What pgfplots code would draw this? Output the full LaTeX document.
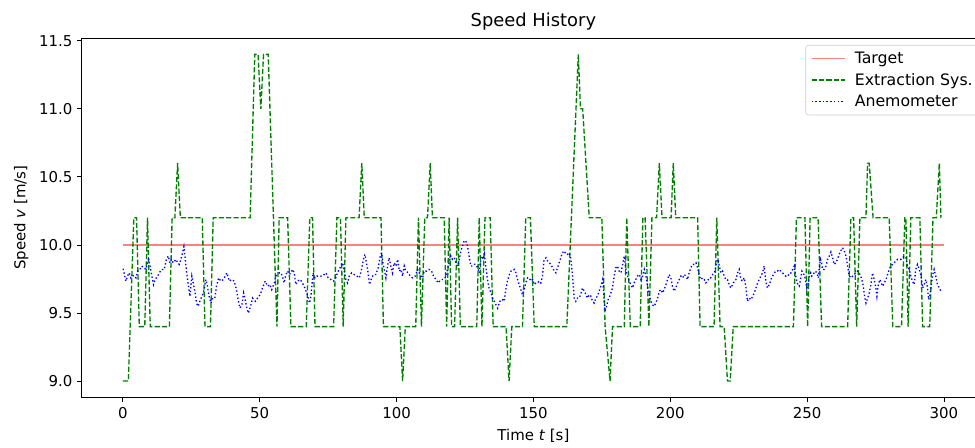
\documentclass[border=0pt]{standalone}
\usepackage{fontspec}
\setmainfont{DejaVu Sans}
\usepackage{pgfplots}
\pgfplotsset{compat=1.18}
\definecolor{mplgreen}{RGB}{0,128,0}
\definecolor{mplred}{RGB}{255,128,128}
\definecolor{mplblue}{RGB}{0,0,255}
\begin{document}
\begin{tikzpicture}
\begin{axis}[
  scale only axis,
  width=676.7pt, height=269.25pt,
  xmin=-15, xmax=315, ymin=8.88, ymax=11.52,
  xtick={0,50,100,150,200,250,300},
  ytick={9.0,9.5,10.0,10.5,11.0,11.5},
  yticklabel style={/pgf/number format/.cd,fixed,fixed zerofill,precision=1},
  /pgf/number format/assume math mode=true,
  tick align=outside, xtick pos=left, ytick pos=left,
  major tick length=3.6pt,
  every tick/.style={black, line width=0.6pt},
  axis line style={line width=0.8pt},
  font=\fontsize{11.2}{13.4}\selectfont,
  tick label style={font=\fontsize{11.2}{13.4}\selectfont},
  title={Speed History},
  title style={font=\fontsize{13.4}{16}\selectfont, yshift=-4pt},
  xlabel={Time \textit{t} [s]},
  ylabel={Speed \textit{v} [m/s]},
  xlabel style={yshift=-1pt},
  ylabel style={yshift=1pt},
  legend cell align=left,
  legend style={at={(rel axis cs:1,1)}, anchor=north east, xshift=-3pt, yshift=-5.2pt,
    draw=black!20, rounded corners=2pt, fill=white, fill opacity=0.8, text opacity=1,
    font=\fontsize{11.8}{14}\selectfont, row sep=1.8pt, column sep=5pt, inner xsep=4pt, inner ysep=3pt},
  legend image code/.code={\draw[mark repeat=2,mark phase=2,#1] (0pt,0pt) -- (24.75pt,0pt);},
]
\addplot[color=mplred, draw=mplred, line width=0.9pt] coordinates {(0,10.0) (300,10.0)};
\addlegendentry{Target}
\addplot[color=mplgreen, draw=mplgreen, line width=1pt, dash pattern=on 3.85pt off 1.67pt] coordinates {
(0,9.0)(2,9.0)(4,10.2)(5,10.2)(6,9.4)(8,9.4)(9,10.2)(10,9.4)(17,9.4)(18,10.2)(19,10.2)(20,10.6)(21,10.2)(29,10.2)(30,9.4)(32,9.4)(33,10.2)(46.5,10.2)(48.2,11.4)(49.4,11.4)(50.4,11.0)(51.4,11.4)(53.1,11.4)(56.3,9.4)(57.1,10.2)(60.2,10.2)(61.4,9.4)(67,9.4)(68.3,10.2)(69.3,10.2)(70.2,9.4)(77,9.4)(78.2,10.2)(79.5,10.2)(80.5,9.4)(81.5,10.2)(86.3,10.2)(87.3,10.6)(88.2,10.2)(94.3,10.2)(95.2,9.4)(101.2,9.4)(102.2,9.0)(103.2,9.4)(107,9.4)(108,10.2)(109.1,9.4)(110.3,10.2)(111.3,10.2)(112.3,10.6)(113.1,10.2)(117.4,10.2)(118.3,9.4)(119.2,10.2)(120.1,9.4)(121.2,9.4)(122.3,10.2)(123.3,9.4)(129.3,9.4)(130.2,10.2)(131.2,9.4)(132.3,10.2)(134.2,10.2)(135.3,9.4)(140,9.4)(141.1,9.0)(142.1,9.4)(146,9.4)(147.2,10.2)(148.9,10.2)(150.3,9.4)(162.2,9.4)(166.4,11.4)(167.2,11.0)(168,11.0)(170.4,10.2)(175,10.2)(176.2,9.4)(178,9.0)(178.9,9.4)(183.2,9.4)(184.1,10.2)(185.4,9.4)(189,9.4)(190,10.2)(190.8,10.2)(192.2,9.4)(193.3,10.2)(195,10.2)(196,10.6)(197,10.2)(200.3,10.2)(201.1,10.6)(202,10.2)(210,10.2)(210.9,9.4)(216,9.4)(217,10.2)(218.2,9.4)(219.7,9.4)(220.9,9.0)(221.9,9.0)(223,9.4)(245,9.4)(246.1,10.2)(249.2,10.2)(250.2,9.4)(251.1,10.2)(254,10.2)(255.3,9.4)(264.8,9.4)(266,10.2)(267,10.2)(268.1,9.4)(269.3,10.2)(271.5,10.2)(272.1,10.6)(272.7,10.6)(274.1,10.2)(280,10.2)(281.3,9.4)(284.5,9.4)(285.7,10.2)(286.1,10.2)(286.9,9.4)(287.9,10.2)(291.2,10.2)(292.2,9.4)(294.8,9.4)(296,10.2)(297.2,10.2)(298.3,10.6)(298.9,10.2)(299,10.2)
};
\addlegendentry{Extraction Sys.}
\addplot[color=mplblue, draw=mplblue, line width=1pt, dash pattern=on 1.04pt off 1.72pt] coordinates {
(0.1,9.825)(1.1,9.734)(1.7,9.771)(2.3,9.795)(2.9,9.758)(3.5,9.771)(4.1,9.776)(4.8,9.758)(5.4,9.808)(6.2,9.820)(6.9,9.845)(7.8,9.832)(8.4,9.820)(9.0,9.869)(9.4,9.894)(9.9,9.845)(10.6,9.771)(11.2,9.709)(11.8,9.746)(12.7,9.771)(13.3,9.795)(14.2,9.820)(15.1,9.820)(15.9,9.894)(16.6,9.919)(17.2,9.869)(17.8,9.894)(18.4,9.869)(19.4,9.894)(20.0,9.869)(20.6,9.857)(21.2,9.894)(21.8,9.943)(22.3,9.988)(22.8,9.894)(23.3,9.795)(24.0,9.697)(24.5,9.623)(25.2,9.771)(25.7,9.721)(26.4,9.647)(26.9,9.573)(27.5,9.549)(28.1,9.586)(28.9,9.623)(29.7,9.672)(30.3,9.746)(30.9,9.697)(31.5,9.623)(32.2,9.573)(32.8,9.610)(33.6,9.610)(34.2,9.697)(35.0,9.758)(35.8,9.734)(36.7,9.746)(37.4,9.771)(38.0,9.795)(38.9,9.734)(39.7,9.746)(40.7,9.734)(41.5,9.672)(42.1,9.598)(42.8,9.536)(43.5,9.561)(44.1,9.647)(44.7,9.598)(45.3,9.536)(45.9,9.499)(46.8,9.561)(47.4,9.610)(48.4,9.586)(49.2,9.610)(50.2,9.635)(51.0,9.684)(52.0,9.734)(52.9,9.697)(53.7,9.709)(54.4,9.672)(55.3,9.721)(55.9,9.771)(56.5,9.783)(57.1,9.795)(57.7,9.795)
(58.3,9.771)(58.9,9.721)(59.6,9.783)(60.2,9.808)(60.8,9.783)(61.4,9.795)(62.0,9.820)(62.6,9.795)(63.2,9.709)(63.8,9.734)(64.8,9.746)(65.6,9.721)(66.5,9.684)(67.2,9.647)(67.7,9.610)(68.2,9.573)(68.7,9.623)(69.1,9.709)(69.5,9.795)(70.2,9.758)(70.9,9.771)(71.7,9.771)(72.9,9.771)(74.2,9.795)(75.0,9.758)(76.0,9.746)(77.0,9.734)(77.8,9.758)(78.4,9.795)(79.0,9.820)(79.7,9.845)(80.3,9.869)(80.9,9.808)(81.5,9.746)(82.1,9.721)(82.7,9.771)(83.6,9.795)(84.5,9.783)(85.5,9.771)(86.4,9.758)(87.2,9.820)(87.9,9.894)(88.4,9.931)(89.0,9.869)(89.6,9.795)(90.1,9.709)(90.9,9.758)(91.6,9.783)(92.4,9.783)(93.3,9.832)(93.9,9.906)(94.5,9.943)(95.0,9.869)(95.5,9.820)(96.1,9.758)(96.7,9.845)(97.3,9.906)(97.9,9.845)(98.5,9.795)(99.1,9.869)(99.8,9.845)(100.4,9.894)(101.0,9.808)(101.6,9.820)(102.2,9.771)(102.8,9.845)(103.4,9.808)(104.3,9.795)(105.0,9.771)(105.8,9.758)(106.8,9.771)(107.7,9.820)(108.3,9.795)(108.9,9.771)(109.5,9.758)(110.1,9.808)(111.0,9.808)(111.9,9.820)(112.8,9.808)(113.5,9.771)(114.4,9.746)(115.2,9.721)(116.2,9.746)(117.0,9.746)(117.7,9.758)(118.3,9.795)(118.6,9.820)
(119.2,9.869)(119.8,9.919)(120.4,9.894)(121.1,9.906)(121.7,9.869)(122.3,9.845)(122.9,9.894)(123.5,9.956)(124.1,9.993)(124.7,10.030)(125.3,10.030)(125.9,9.993)(126.5,9.919)(127.1,9.845)(127.8,9.845)(128.4,9.857)(129.0,9.857)(129.6,9.832)(130.2,9.795)(130.6,9.869)(131.0,9.919)(131.7,9.894)(132.1,9.931)(132.6,9.845)(133.2,9.746)(133.8,9.684)(134.5,9.647)(135.1,9.610)(135.7,9.586)(136.3,9.561)(136.9,9.536)(137.5,9.573)(138.1,9.598)(138.7,9.598)(139.3,9.586)(139.9,9.672)(140.5,9.734)(141.2,9.783)(141.8,9.808)(142.4,9.808)(143.0,9.820)(143.6,9.795)(144.2,9.746)(144.8,9.709)(145.4,9.672)(146.0,9.635)(146.6,9.672)(147.2,9.721)(147.9,9.758)(148.5,9.758)(149.1,9.734)(149.7,9.746)(150.3,9.709)(150.9,9.721)(151.5,9.721)(152.1,9.734)(152.7,9.721)(153.3,9.771)(153.9,9.894)(154.6,9.906)(155.2,9.882)(155.8,9.869)(156.4,9.857)(157.0,9.832)(157.6,9.808)(158.2,9.795)(158.8,9.832)(159.4,9.869)(160.0,9.906)(160.6,9.943)(161.3,9.956)(161.9,9.931)(162.5,9.931)(163.1,9.943)(163.7,9.894)(164.3,9.771)(164.9,9.610)(165.5,9.586)(166.1,9.610)(166.7,9.610)(167.3,9.635)(167.9,9.684)(168.6,9.660)(169.2,9.635)(169.8,9.610)(170.4,9.635)(171.0,9.623)(171.6,9.586)(172.2,9.573)(172.8,9.610)(173.4,9.623)(174.0,9.660)(174.6,9.697)(175.3,9.746)(175.9,9.586)(176.2,9.512)(176.7,9.549)(177.3,9.598)(177.9,9.623)
(178.9,9.684)(179.5,9.771)(180.1,9.832)(180.7,9.845)(181.3,9.808)(182.0,9.795)(182.6,9.857)(183.2,9.919)(183.4,9.882)(183.8,9.820)(184.4,9.771)(185.0,9.734)(185.6,9.709)(186.2,9.684)(186.8,9.721)(187.4,9.746)(188.0,9.771)(188.7,9.783)(189.3,9.746)(189.9,9.771)(190.5,9.820)(191.1,9.771)(191.7,9.697)(192.3,9.635)(192.9,9.586)(193.5,9.561)(194.1,9.549)(194.7,9.573)(195.4,9.610)(196.0,9.660)(196.6,9.672)(197.2,9.647)(197.8,9.672)(198.4,9.709)(199.0,9.746)(199.6,9.783)(200.2,9.758)(200.8,9.697)(201.4,9.660)(202.0,9.684)(202.7,9.721)(203.3,9.746)(203.9,9.771)(204.5,9.758)(205.1,9.783)(205.7,9.771)(206.3,9.746)(206.9,9.795)(207.5,9.832)(208.1,9.857)(208.8,9.857)(209.4,9.869)(210.0,9.832)(210.6,9.771)(211.2,9.746)(211.8,9.758)(212.4,9.746)(213.0,9.721)(213.6,9.734)(214.2,9.758)(214.8,9.758)(215.5,9.783)(216.1,9.795)(216.7,9.845)(217.0,9.882)(217.5,9.894)(217.9,9.845)(218.5,9.795)(219.1,9.808)(219.7,9.771)(220.3,9.746)(220.9,9.746)(221.5,9.709)(222.1,9.684)(222.8,9.709)(223.4,9.734)(224.0,9.746)(224.6,9.795)(225.2,9.820)(225.8,9.746)(226.4,9.734)(227.0,9.758)(227.6,9.697)(228.0,9.623)(228.2,9.586)(228.8,9.610)(229.5,9.598)(230.1,9.623)(230.7,9.647)(231.3,9.684)(231.9,9.721)(232.5,9.746)(233.1,9.771)(233.7,9.795)(234.3,9.845)(234.9,9.734)(235.5,9.684)(236.2,9.709)(236.8,9.746)(237.4,9.771)(238.0,9.795)(238.6,9.808)
(239.2,9.808)(239.8,9.820)(240.4,9.808)(241.0,9.795)(241.6,9.783)(242.2,9.771)(242.8,9.783)(243.4,9.776)(244.1,9.795)(244.7,9.820)(245.3,9.845)(245.6,9.795)(246.1,9.746)(246.6,9.709)(247.1,9.697)(247.6,9.746)(248.1,9.808)(248.6,9.795)(249.1,9.771)(249.5,9.734)(249.9,9.684)(250.3,9.709)(250.8,9.771)(251.3,9.795)(251.7,9.771)(252.2,9.783)(253.0,9.808)(253.6,9.795)(254.1,9.758)(254.5,9.845)(254.9,9.894)(255.3,9.869)(255.6,9.820)(256.2,9.820)(256.9,9.845)(257.5,9.894)(258.1,9.919)(258.7,9.948)(259.3,9.906)(259.9,9.857)(260.5,9.869)(261.1,9.894)(261.7,9.931)(262.3,9.956)(262.9,9.980)(263.6,9.956)(264.2,9.919)(264.8,9.845)(265.4,9.771)(266.0,9.758)(266.6,9.771)(267.2,9.783)(267.8,9.795)(268.4,9.808)(269.0,9.795)(269.6,9.771)(270.3,9.721)(270.6,9.684)(271.0,9.623)(271.5,9.573)(272.1,9.610)(272.7,9.647)(273.3,9.709)(273.9,9.795)(274.5,9.746)(275.1,9.684)(275.5,9.623)(276.0,9.709)(276.6,9.746)(277.1,9.721)(277.6,9.697)(278.2,9.721)(278.8,9.746)(279.4,9.783)(280.0,9.820)(280.6,9.845)(281.2,9.857)(281.8,9.869)(282.4,9.882)(283.0,9.894)(283.7,9.894)(284.3,9.894)(284.9,9.906)(285.5,9.919)(286.1,9.906)(286.7,9.845)(287.3,9.820)(287.9,9.771)(288.5,9.734)(289.1,9.709)(289.7,9.820)(290.3,9.857)(291.0,9.820)(291.6,9.771)(292.2,9.684)(292.8,9.709)(293.4,9.746)(294.0,9.684)(294.4,9.598)(294.9,9.635)(295.3,9.697)(295.8,9.771)(296.4,9.820)(297.0,9.771)(297.6,9.709)(298.3,9.684)(298.9,9.660)
};
\addlegendentry{Anemometer}
\end{axis}
\pgfresetboundingbox
\path (current axis.south west) ++(-61.3pt,-37.5pt) coordinate (bbA);
\path (current axis.south west) ++(669.2pt,297.75pt) coordinate (bbB);
\useasboundingbox (bbA) rectangle (bbB);
\end{tikzpicture}
\end{document}
